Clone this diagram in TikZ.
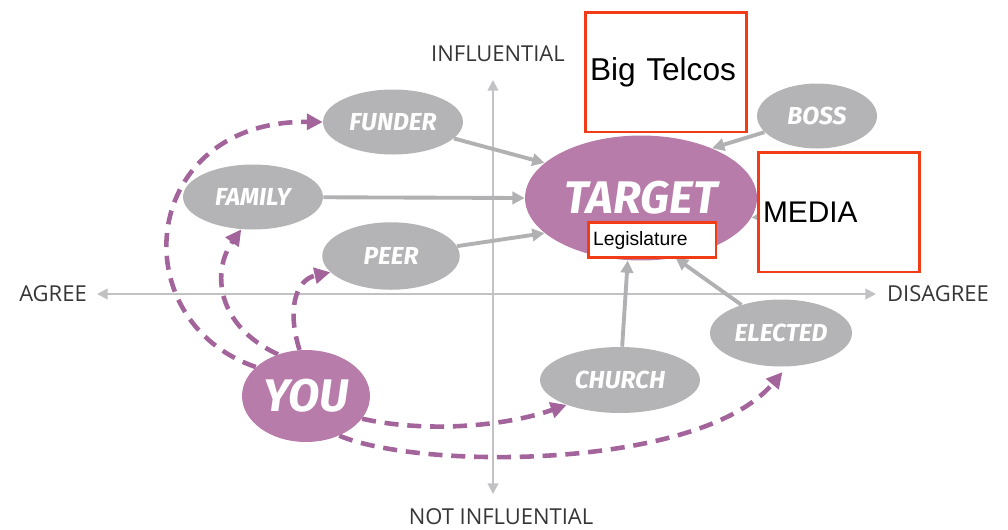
\documentclass[tikz,border=0pt]{standalone}
\usepackage{fontspec}
\setmainfont{Open Sans}
\newfontfamily\boxfont{Liberation Sans}
\newfontfamily\handfont{Fira Sans}
\usetikzlibrary{arrows.meta,shapes.geometric,backgrounds}

\definecolor{actorgray}{HTML}{B4B4B6}
\definecolor{keypurple}{HTML}{B87CAB}
\definecolor{dashpurple}{HTML}{A3649B}
\definecolor{feedgray}{HTML}{B1B1B3}
\definecolor{axisgray}{HTML}{C2C2C4}
\definecolor{labelgray}{HTML}{363636}
\definecolor{calloutred}{HTML}{F23C17}

\tikzset{
    actor/.style={ellipse, fill=actorgray, inner sep=0pt, text=white,
        font=\handfont\bfseries\itshape\fontsize{14}{14}\selectfont},
    keyactor/.style={ellipse, fill=keypurple, inner sep=0pt, text=white,
        font=\handfont\bfseries\itshape\fontsize{26}{26}\selectfont},
    feed/.style={draw=feedgray, line width=2.2pt, -{Triangle[length=7pt,width=7pt]}},
    reach/.style={draw=dashpurple, line width=2.6pt, dash pattern=on 8pt off 5pt,
        -{Triangle[length=9pt,width=9pt]}},
    axisline/.style={draw=axisgray, line width=1.1pt,
        {Triangle[length=6pt,width=6pt]}-{Triangle[length=6pt,width=6pt]}},
    axislabel/.style={text=labelgray, font=\fontsize{12.5}{12.5}\selectfont},
    callout/.style={rectangle, draw=calloutred, line width=1.7pt, fill=white,
        inner ysep=0pt, inner xsep=0.1cm, align=left}
}

\begin{document}
\begin{tikzpicture}[x=0.02cm, y=-0.02cm]
    \useasboundingbox (0,0) rectangle (1008,529);

    % axis labels
    \node[axislabel] (influential) at (498,54) {INFLUENTIAL};
    \node[axislabel] (notinfluential) at (501,517) {NOT INFLUENTIAL};
    \node[axislabel] (agree) at (53,294) {AGREE};
    \node[axislabel] (disagree) at (938,294) {DISAGREE};

    % people around the target
    \node[actor, minimum width=2.8cm, minimum height=1.3cm] (funder) at (393,122) {FUNDER};
    \node[actor, minimum width=2.8cm, minimum height=1.3cm] (family) at (253,197) {FAMILY};
    \node[actor, minimum width=2.75cm, minimum height=1.35cm] (peer) at (391,256) {PEER};
    \node[actor, minimum width=2.4cm, minimum height=1.3cm] (boss) at (817,116) {BOSS};
    \node[actor, minimum width=3.2cm, minimum height=1.32cm] (church) at (620,380) {CHURCH};
    \node[actor, minimum width=2.84cm, minimum height=1.34cm] (elected) at (781,333) {ELECTED};
    \node[keyactor, minimum width=4.64cm, minimum height=2.5cm] (target) at (641,198) {TARGET};
    \node[keyactor, minimum width=2.56cm, minimum height=1.84cm] (you) at (306,396) {YOU};

    % red notes laid over the chart
    \node[callout, text width=3.04cm, minimum height=2.4cm,
        font=\boxfont\fontsize{18}{18}\selectfont] (telcos) at (666,72) {Big Telcos};
    \node[callout, text width=3.04cm, minimum height=2.4cm,
        font=\boxfont\fontsize{17}{17}\selectfont] (media) at (839,212) {MEDIA};
    \node[callout, text width=2.36cm, minimum height=0.7cm,
        font=\boxfont\fontsize{11}{11}\selectfont] (legis) at (652,240) {Legislature};

    \begin{pgfonlayer}{background}
        % axes
        \draw[axisline] (493,80) -- (493,494);
        \draw[axisline] (97,294) -- (876,294);

        % influence on the target
        \foreach \src/\ang in {funder/160, family/180, peer/200, boss/35,
                               church/258, elected/300, media/350} {
            \draw[feed] (\src) -- (target.\ang);
        }

        % who you can reach
        \draw[reach] (you.150) .. controls (120,320) and (140,120) .. (funder.west);
        \draw[reach] (you.124) .. controls (215,325) and (212,270) .. (family.250);
        \draw[reach] (you.98) .. controls (287,310) and (295,280) .. (peer.195);
        \draw[reach] (you.338) .. controls (420,432) and (500,428) .. (church.205);
        \draw[reach, shorten >=4pt] (you.310) .. controls (420,470) and (700,470) .. (elected.280);
    \end{pgfonlayer}
\end{tikzpicture}
\end{document}
